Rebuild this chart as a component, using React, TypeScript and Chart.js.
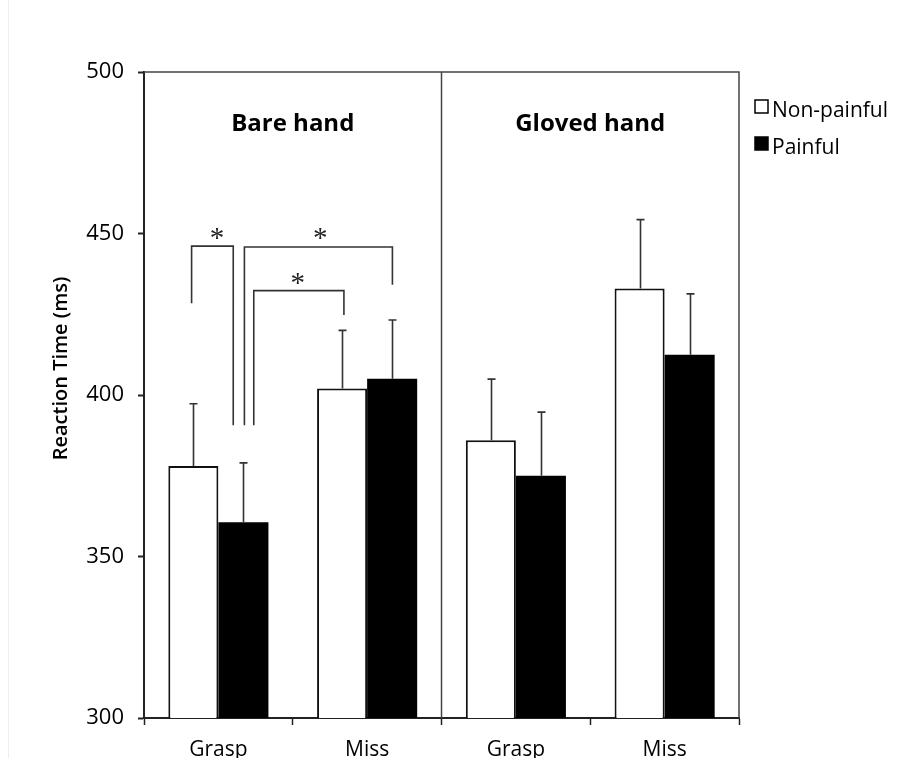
import React, { useEffect, useRef } from "react";
import { Chart, registerables } from "chart.js";
Chart.register(...registerables);

const categories = ["Grasp", "Miss", "Grasp", "Miss"];
const panelLabels = ["Bare hand", "Gloved hand"];
const seriesNames = ["Non-painful", "Painful"];
const nonPainful = [378, 402, 386, 433];
const nonPainfulErr = [19.3, 18, 18.9, 21.3];
const painful = [360.6, 405, 375, 412.5];
const painfulErr = [18.4, 18.2, 19.7, 18.8];
const yMin = 300;
const yMax = 500;
const yStep = 50;
const yTitle = "Reaction Time (ms)";

// significance brackets, as [category position, ms] points
const brackets = [
  [[-0.18, 428.4], [-0.18, 446.1], [0.1, 446.1], [0.1, 390.6]],
  [[0.175, 390.6], [0.175, 445.8], [1.17, 445.8], [1.17, 434.1]],
  [[0.238, 390.6], [0.238, 432.3], [0.844, 432.3], [0.844, 424.8]],
];
const stars = [[-0.01, 450.6], [0.685, 450.6], [0.534, 436.5]];

const FONT = "'Open Sans', 'DejaVu Sans', sans-serif";

const overlay = {
  id: "overlay",
  afterDatasetsDraw(chart: any) {
    const { ctx, chartArea: a, scales } = chart;
    const x = scales.x;
    const y = scales.y;
    ctx.save();
    // faint page edge
    ctx.strokeStyle = "#eeeeee";
    ctx.lineWidth = 1;
    ctx.beginPath();
    ctx.moveTo(8.5, 0);
    ctx.lineTo(8.5, chart.height);
    ctx.stroke();

    // frame top/right and panel divider
    ctx.strokeStyle = "#444";
    ctx.lineWidth = 1.5;
    ctx.beginPath();
    ctx.moveTo(a.left, a.top);
    ctx.lineTo(a.right, a.top);
    ctx.lineTo(a.right, a.bottom);
    const mid = x.getPixelForValue(1.5);
    ctx.moveTo(mid, a.top);
    ctx.lineTo(mid, a.bottom);
    ctx.stroke();

    // error bars
    const errs = [nonPainfulErr, painfulErr];
    const vals = [nonPainful, painful];
    ctx.strokeStyle = "#333";
    ctx.lineWidth = 1.6;
    for (let d = 0; d < 2; d++) {
      const meta = chart.getDatasetMeta(d);
      meta.data.forEach((el: any, i: number) => {
        const cx = Math.round(el.x) + 0.5;
        const yb = y.getPixelForValue(vals[d][i]);
        const yt = y.getPixelForValue(vals[d][i] + errs[d][i]);
        ctx.beginPath();
        ctx.moveTo(cx, yb);
        ctx.lineTo(cx, yt);
        ctx.moveTo(cx - 4, yt);
        ctx.lineTo(cx + 4, yt);
        ctx.stroke();
      });
    }

    // significance brackets
    ctx.strokeStyle = "#333";
    ctx.lineWidth = 1.6;
    brackets.forEach((pts) => {
      ctx.beginPath();
      pts.forEach((p, k) => {
        const px = x.getPixelForValue(p[0]);
        const py = y.getPixelForValue(p[1]);
        if (k === 0) ctx.moveTo(px, py);
        else ctx.lineTo(px, py);
      });
      ctx.stroke();
    });
    ctx.fillStyle = "#222";
    ctx.font = "29px 'Liberation Serif', serif";
    ctx.textAlign = "center";
    ctx.textBaseline = "alphabetic";
    stars.forEach((s) => {
      ctx.fillText("*", x.getPixelForValue(s[0]), y.getPixelForValue(s[1]) + 15);
    });

    // panel labels
    ctx.fillStyle = "#000";
    ctx.font = `bold 24px ${FONT}`;
    ctx.textAlign = "center";
    panelLabels.forEach((lab, k) => {
      const cx = (x.getPixelForValue(k * 2 - 0.5) + x.getPixelForValue(k * 2 + 1.5)) / 2;
      ctx.fillText(lab, cx, a.top + 59);
    });

    // y title
    ctx.save();
    ctx.translate(61, 368.5);
    ctx.rotate(-Math.PI / 2);
    ctx.font = `600 20px ${FONT}`;
    ctx.textAlign = "center";
    ctx.textBaseline = "middle";
    ctx.fillText(yTitle, 0, 0);
    ctx.restore();

    // legend
    const lx = a.right + 16;
    ctx.font = `21px ${FONT}`;
    ctx.textAlign = "left";
    ctx.textBaseline = "alphabetic";
    seriesNames.forEach((name, k) => {
      const ds = chart.data.datasets[k];
      const top = a.top + 28 + k * 37;
      ctx.fillStyle = ds.backgroundColor;
      ctx.fillRect(lx, top, 13, 13);
      ctx.strokeStyle = "#000";
      ctx.lineWidth = 1.5;
      ctx.strokeRect(lx, top, 13, 13);
      ctx.fillStyle = "#000";
      ctx.fillText(name, lx + 17, top + 17);
    });
    ctx.restore();
  },
};

export default function App() {
  const ref = useRef<HTMLCanvasElement | null>(null);
  useEffect(() => {
    if (!ref.current) return;
    const chart = new Chart(ref.current, {
      type: "bar",
      data: {
        labels: categories,
        datasets: [
          {
            label: seriesNames[0],
            data: nonPainful,
            backgroundColor: "#ffffff",
            borderColor: "#111",
            borderWidth: 2,
            categoryPercentage: 0.673,
            barPercentage: 1,
          },
          {
            label: seriesNames[1],
            data: painful,
            backgroundColor: "#000000",
            borderColor: "#000000",
            borderWidth: 0,
            categoryPercentage: 0.673,
            barPercentage: 1,
          },
        ],
      },
      options: {
        animation: false,
        responsive: false,
        maintainAspectRatio: false,
        layout: { padding: { left: 0, right: 180, top: 72, bottom: 0 } },
        plugins: {
          legend: { display: false },
          tooltip: { enabled: false },
          title: { display: false },
        },
        scales: {
          x: {
            offset: true,
            afterFit: (s: any) => {
              s.height = 40;
            },
            grid: {
              offset: true,
              drawOnChartArea: false,
              drawTicks: true,
              tickLength: 7,
              tickColor: "#222",
              tickWidth: 1.5,
            },
            border: { display: true, color: "#222", width: 2 },
            ticks: {
              color: "#000",
              font: { family: FONT, size: 21 },
              padding: 12,
            },
          },
          y: {
            min: yMin,
            max: yMax,
            afterFit: (s: any) => {
              s.width = 144;
            },
            grid: {
              drawOnChartArea: false,
              drawTicks: true,
              tickLength: 6,
              tickColor: "#222",
              tickWidth: 2,
            },
            border: { display: true, color: "#222", width: 2 },
            ticks: {
              stepSize: yStep,
              color: "#000",
              font: { family: FONT, size: 22 },
              padding: 14,
            },
          },
        },
      },
      plugins: [overlay],
    });
    return () => chart.destroy();
  }, []);
  return (
    <div style={{ position: "absolute", left: 0, top: 0, width: 919, height: 758, background: "#fff" }}>
      <canvas ref={ref} width={919} height={758} style={{ display: "block" }} />
    </div>
  );
}
